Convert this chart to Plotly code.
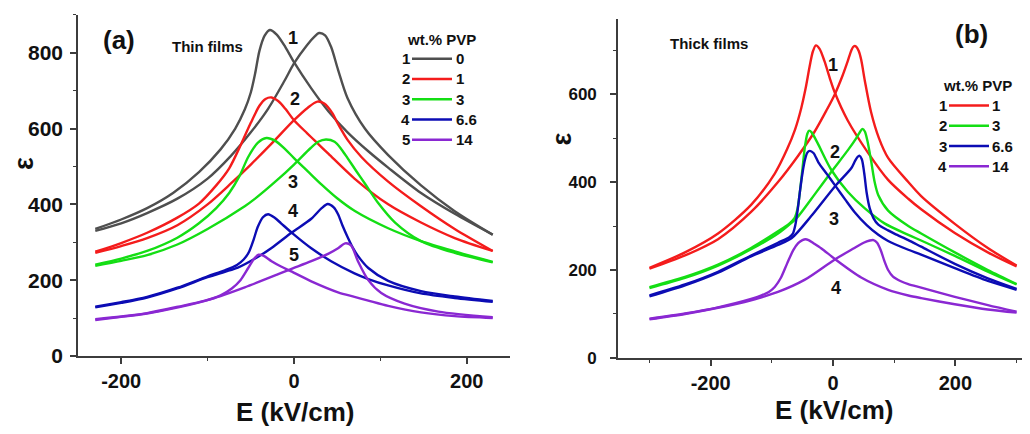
import plotly.graph_objects as go

# ---------------- Panel (a): thin films ----------------
A_NUMS = ["1", "2", "3", "4", "5"]
A_PVP = ["0", "1", "3", "6.6", "14"]
A_XTICKS = [-200, 0, 200]
A_XTICKTEXT = ["-200", "0", "200"]
A_YTICKS = [0, 200, 400, 600, 800]

a1_neg_E = [-230, -200, -170, -140, -110, -85, -68, -57, -50, -45, -40, -34, -28, -20, -10, 0, 20, 40, 62, 86, 110, 147, 186, 230]
a1_neg_eps = [335, 360, 390, 430, 485, 545, 600, 650, 695, 745, 805, 845, 860, 848, 815, 775, 706, 645, 590, 540, 495, 430, 375, 320]
a1_pos_E = [-230, -200, -170, -135, -100, -73, -50, -30, -11, 0, 15, 24, 29, 36, 43, 51, 62, 82, 109, 147, 186, 230]
a1_pos_eps = [330, 350, 377, 415, 468, 528, 590, 652, 726, 772, 820, 843, 852, 846, 815, 755, 680, 600, 530, 450, 382, 320]

a2_neg_E = [-230, -200, -170, -135, -110, -90, -75, -61, -50, -40, -33, -26, -18, -10, 0, 15, 25, 40, 70, 109, 147, 186, 230]
a2_neg_eps = [275, 298, 325, 365, 402, 450, 495, 560, 615, 660, 678, 682, 672, 652, 622, 588, 566, 533, 468, 400, 352, 311, 277]
a2_pos_E = [-230, -200, -170, -135, -100, -73, -50, -26, 0, 16, 27, 35, 44, 51, 62, 78, 109, 147, 186, 230]
a2_pos_eps = [272, 290, 311, 345, 400, 455, 505, 560, 622, 655, 671, 666, 642, 612, 570, 525, 460, 395, 335, 277]

a3_neg_E = [-230, -200, -170, -135, -110, -90, -75, -63, -53, -42, -32, -22, -10, 0, 16, 32, 50, 70, 109, 147, 186, 230]
a3_neg_eps = [241, 257, 277, 312, 350, 390, 430, 475, 525, 562, 575, 568, 545, 522, 487, 452, 416, 383, 337, 303, 276, 248]
a3_pos_E = [-230, -200, -170, -135, -100, -57, -45, -19, 0, 19, 28, 37, 47, 55, 62, 72, 82, 97, 117, 147, 186, 230]
a3_pos_eps = [238, 251, 266, 294, 335, 395, 415, 465, 505, 548, 565, 571, 565, 545, 522, 488, 455, 405, 352, 303, 272, 247]

a4_neg_E = [-230, -200, -170, -135, -100, -80, -66, -58, -52, -47, -42, -36, -30, -22, -15, -1, 20, 43, 70, 86, 109, 147, 186, 230]
a4_neg_eps = [130, 142, 156, 180, 210, 226, 240, 255, 275, 305, 340, 366, 374, 364, 350, 322, 284, 250, 218, 203, 186, 165, 153, 143]
a4_pos_E = [-230, -200, -170, -135, -100, -80, -65, -45, -26, -3, 20, 32, 39, 46, 51, 56, 62, 68, 74, 86, 109, 147, 186, 230]
a4_pos_eps = [128, 140, 154, 178, 208, 222, 233, 257, 285, 325, 362, 390, 401, 392, 374, 345, 314, 286, 264, 232, 198, 171, 157, 145]

a5_neg_E = [-230, -200, -170, -134, -103, -85, -72, -62, -53, -46, -41, -35, -26, -15, -5, 20, 51, 70, 86, 109, 147, 186, 230]
a5_neg_eps = [97, 104, 113, 130, 146, 160, 178, 200, 232, 257, 267, 264, 250, 236, 225, 197, 168, 156, 146, 132, 115, 105, 100]
a5_pos_E = [-230, -200, -170, -134, -96, -57, -19, -5, 20, 40, 51, 59, 66, 74, 86, 101, 128, 167, 230]
a5_pos_eps = [95, 103, 112, 128, 150, 181, 215, 228, 250, 270, 284, 297, 292, 250, 200, 166, 138, 117, 102]

# ---------------- Panel (b): thick films ----------------
B_NUMS = ["1", "2", "3", "4"]
B_PVP = ["1", "3", "6.6", "14"]
B_XTICKS = [-200, 0, 200]
B_XTICKTEXT = ["-200", "0", "200"]
B_YTICKS = [0, 200, 400, 600]

b1_neg_E = [-300, -242, -188, -134, -95, -75, -62, -52, -45, -38, -33, -28, -22, -14, -5, 3, 24, 57, 90, 123, 144, 199, 253, 300]
b1_neg_eps = [205, 240, 283, 348, 420, 475, 520, 568, 612, 665, 697, 711, 703, 675, 635, 603, 540, 467, 405, 362, 338, 284, 240, 208]
b1_pos_E = [-300, -242, -188, -134, -90, -57, -30, -10, 3, 15, 24, 30, 34, 38, 42, 46, 52, 62, 75, 90, 123, 144, 199, 253, 300]
b1_pos_eps = [203, 233, 270, 332, 400, 460, 515, 565, 600, 640, 675, 700, 709, 708, 698, 678, 630, 560, 500, 455, 400, 368, 305, 250, 210]

b2_neg_E = [-300, -242, -188, -134, -90, -72, -63, -58, -54, -50, -46, -42, -39, -35, -25, -3, 24, 52, 84, 123, 144, 199, 253, 300]
b2_neg_eps = [161, 184, 212, 250, 288, 305, 318, 340, 380, 430, 480, 510, 517, 513, 488, 428, 378, 340, 306, 280, 267, 232, 196, 167]
b2_pos_E = [-300, -242, -188, -134, -90, -70, -57, -30, -3, 24, 38, 44, 48, 52, 56, 62, 68, 74, 90, 123, 144, 199, 253, 300]
b2_pos_eps = [159, 182, 210, 247, 283, 305, 322, 372, 423, 472, 500, 514, 521, 515, 495, 450, 400, 370, 335, 300, 283, 240, 200, 168]

b3_neg_E = [-300, -242, -188, -134, -90, -72, -66, -62, -58, -54, -50, -46, -42, -38, -32, -24, -10, 3, 20, 35, 55, 74, 90, 123, 144, 199, 253, 300]
b3_neg_eps = [142, 167, 196, 233, 262, 274, 282, 300, 335, 380, 420, 450, 467, 471, 466, 445, 418, 393, 360, 332, 302, 280, 266, 246, 235, 204, 175, 155]
b3_pos_E = [-300, -242, -188, -134, -90, -68, -36, 3, 30, 36, 40, 43, 47, 51, 55, 60, 66, 74, 90, 101, 123, 144, 199, 253, 300]
b3_pos_eps = [140, 165, 194, 231, 257, 272, 322, 390, 432, 448, 457, 460, 452, 420, 375, 340, 318, 303, 290, 282, 268, 253, 214, 181, 157]

b4_neg_E = [-300, -242, -188, -134, -117, -105, -95, -85, -75, -65, -57, -50, -45, -40, -32, -19, 3, 46, 90, 123, 144, 199, 253, 300]
b4_neg_eps = [89, 101, 115, 134, 142, 150, 162, 183, 215, 245, 261, 268, 270, 268, 261, 249, 225, 183, 155, 142, 136, 122, 110, 103]
b4_pos_E = [-300, -242, -188, -134, -117, -90, -46, 3, 35, 50, 60, 66, 72, 78, 84, 90, 98, 110, 123, 144, 199, 253, 300]
b4_pos_eps = [88, 100, 114, 131, 138, 150, 178, 224, 250, 262, 267, 268, 262, 245, 220, 200, 185, 175, 168, 160, 139, 120, 105]

# ---------------- styling ----------------
GRAY, RED, GREEN, BLUE, PURPLE = "#4f4f4f", "#f41c1c", "#14de14", "#0c0cb4", "#8a28d2"
A_COLORS = [GRAY, RED, GREEN, BLUE, PURPLE]
B_COLORS = [RED, GREEN, BLUE, PURPLE]
FONT = "Liberation Sans, Arial, sans-serif"
W, H = 1030, 434

a_curves = [
    (a1_neg_E, a1_neg_eps, a1_pos_E, a1_pos_eps),
    (a2_neg_E, a2_neg_eps, a2_pos_E, a2_pos_eps),
    (a3_neg_E, a3_neg_eps, a3_pos_E, a3_pos_eps),
    (a4_neg_E, a4_neg_eps, a4_pos_E, a4_pos_eps),
    (a5_neg_E, a5_neg_eps, a5_pos_E, a5_pos_eps),
]
b_curves = [
    (b1_neg_E, b1_neg_eps, b1_pos_E, b1_pos_eps),
    (b2_neg_E, b2_neg_eps, b2_pos_E, b2_pos_eps),
    (b3_neg_E, b3_neg_eps, b3_pos_E, b3_pos_eps),
    (b4_neg_E, b4_neg_eps, b4_pos_E, b4_pos_eps),
]

fig = go.Figure()
for (e1, y1, e2, y2), c, n in zip(a_curves, A_COLORS, A_PVP):
    for ex, ey in ((e1, y1), (e2, y2)):
        fig.add_trace(go.Scatter(x=ex, y=ey, mode="lines", name=n, showlegend=False,
                                 line=dict(color=c, width=2.4, shape="spline", smoothing=0.8),
                                 xaxis="x", yaxis="y"))
for (e1, y1, e2, y2), c, n in zip(b_curves, B_COLORS, B_PVP):
    for ex, ey in ((e1, y1), (e2, y2)):
        fig.add_trace(go.Scatter(x=ex, y=ey, mode="lines", name=n, showlegend=False,
                                 line=dict(color=c, width=2.4, shape="spline", smoothing=0.8),
                                 xaxis="x2", yaxis="y2"))


def px_x(px):
    return px / W


def px_y(py):
    return 1 - py / H


def axis(size, **kw):
    d = dict(showline=True, linecolor="#3c3c3c", linewidth=1.6, ticks="outside",
             ticklen=6, tickwidth=1.5, tickcolor="#3c3c3c", showgrid=False, zeroline=False,
             tickfont=dict(family=FONT, size=size, color="#111", weight="bold"),
             minor=dict(dtick=100, tick0=0, ticks="outside", ticklen=3, tickwidth=1.3, tickcolor="#3c3c3c"),
             tickmode="array")
    d.update(kw)
    return d


fig.update_layout(
    width=W, height=H, margin=dict(l=0, r=0, t=0, b=0),
    paper_bgcolor="white", plot_bgcolor="white", showlegend=False,
    xaxis=axis(20, domain=[px_x(70), px_x(502)], range=[-250, 250], anchor="y",
               tickvals=A_XTICKS, ticktext=A_XTICKTEXT),
    yaxis=axis(21, domain=[px_y(357), px_y(7)], range=[0, 900], anchor="x",
               tickvals=A_YTICKS, ticktext=[str(v) for v in A_YTICKS], ticklabelstandoff=3),
    xaxis2=axis(20, domain=[px_x(610), 1.0], range=[-351.5, 335], anchor="y2",
                tickvals=B_XTICKS, ticktext=B_XTICKTEXT),
    yaxis2=axis(17, domain=[px_y(359), px_y(11.7)], range=[0, 770], anchor="x2",
                tickvals=B_YTICKS, ticktext=[str(v) for v in B_YTICKS], ticklabelstandoff=10),
)

ann = []


def txt(x, y, s, size, xanchor="center", yanchor="middle", angle=0, xref="paper", yref="paper"):
    ann.append(dict(x=x, y=y, xref=xref, yref=yref, text=s, showarrow=False, xanchor=xanchor,
                    yanchor=yanchor, textangle=angle,
                    font=dict(family=FONT, size=size, color="#111", weight="bold")))


# axis titles
txt(px_x(287), px_y(414), "E (kV/cm)", 26)
txt(px_x(826), px_y(412), "E (kV/cm)", 26)
txt(px_x(16), px_y(160), "ε", 27, angle=-90)
txt(px_x(554), px_y(135), "ε", 27, angle=-90)
# panel labels
txt(px_x(111), px_y(33), "(a)", 26)
txt(px_x(963), px_y(27), "(b)", 26)
txt(px_x(199), px_y(39), "Thin films", 15)
txt(px_x(701), px_y(36), "Thick films", 15)

# curve numbers (data coordinates)
A_NUM_POS = [(-1, 840), (1, 679), (-1, 460), (-1, 383), (0, 267)]
for s, (ex, ey) in zip(A_NUMS, A_NUM_POS):
    txt(ex, ey, s, 18, xref="x", yref="y")
B_NUM_POS = [(0, 667), (3, 468), (2, 315), (5, 160)]
for s, (ex, ey) in zip(B_NUMS, B_NUM_POS):
    txt(ex, ey, s, 18, xref="x2", yref="y2")

# legends drawn by hand
shapes = []
txt(px_x(397), px_y(32), "wt.% PVP", 15, xanchor="left")
for i, (s, v, c) in enumerate(zip(A_NUMS, A_PVP, A_COLORS)):
    py = 52 + i * 20.8
    txt(px_x(404), px_y(py), s, 15, xanchor="right")
    txt(px_x(446), px_y(py), v, 15, xanchor="left")
    shapes.append(dict(type="line", xref="paper", yref="paper", x0=px_x(404), x1=px_x(444),
                       y0=px_y(py), y1=px_y(py), line=dict(color=c, width=2.5)))
txt(px_x(933), px_y(80), "wt.% PVP", 15, xanchor="left")
for i, (s, v, c) in enumerate(zip(B_NUMS, B_PVP, B_COLORS)):
    py = 100 + i * 20.8
    txt(px_x(941), px_y(py), s, 15, xanchor="right")
    txt(px_x(982), px_y(py), v, 15, xanchor="left")
    shapes.append(dict(type="line", xref="paper", yref="paper", x0=px_x(941), x1=px_x(981),
                       y0=px_y(py), y1=px_y(py), line=dict(color=c, width=2.5)))

fig.update_layout(annotations=ann, shapes=shapes)
fig.write_html("out.html")
